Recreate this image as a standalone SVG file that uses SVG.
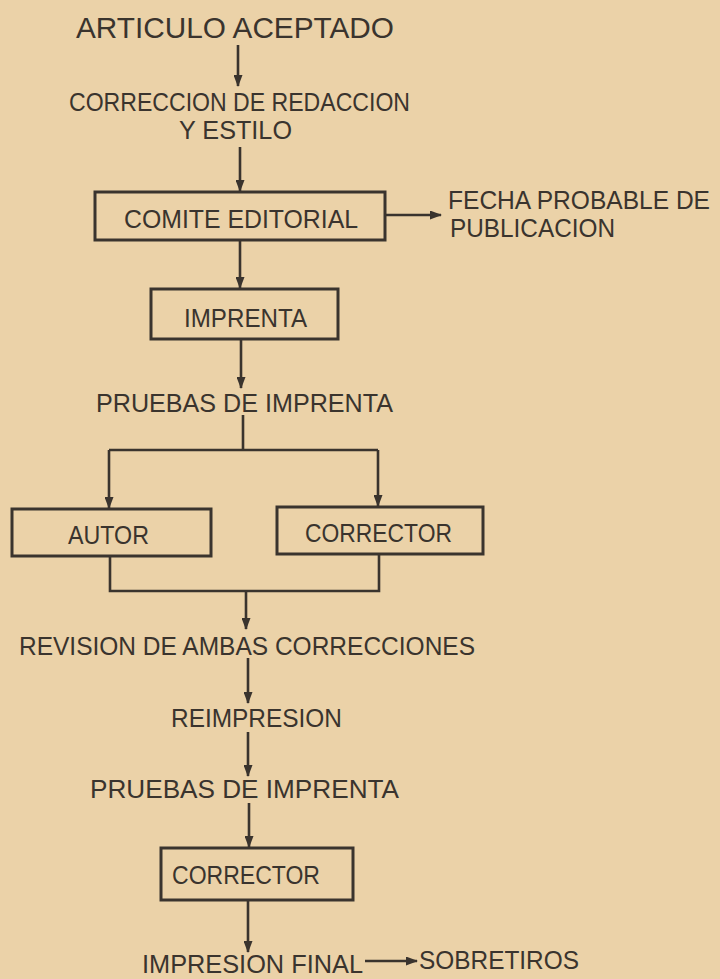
<svg xmlns="http://www.w3.org/2000/svg" width="720" height="979" viewBox="0 0 720 979">
<style>
.t{font-family:"Liberation Sans",Arial,sans-serif;font-size:26px;fill:#3a342e}
.b{fill:none;stroke:#3a342e;stroke-width:3}
.c{fill:none;stroke:#3a342e;stroke-width:2.6}
</style>
<defs>
<marker id="ah" markerUnits="userSpaceOnUse" markerWidth="12" markerHeight="9" refX="11" refY="4.5" orient="auto">
<path d="M0,0 L12,4.5 L0,9 z" fill="#3a342e"/>
</marker>
</defs>
<rect width="720" height="979" fill="#ebd2a8"/>
<g id="n-articulo"><text class="t" x="76" y="38" textLength="318" lengthAdjust="spacingAndGlyphs" style="font-size:29px">ARTICULO ACEPTADO</text></g>
<g id="n-correccion"><text class="t" x="69" y="111" textLength="341" lengthAdjust="spacingAndGlyphs">CORRECCION DE REDACCION</text><text class="t" x="179" y="139" textLength="113" lengthAdjust="spacingAndGlyphs">Y ESTILO</text></g>
<g id="n-comite"><rect class="b" x="95" y="192" width="290" height="48"/><text class="t" x="124" y="228" textLength="234" lengthAdjust="spacingAndGlyphs">COMITE EDITORIAL</text></g>
<g id="n-fecha"><text class="t" x="448" y="209" textLength="262" lengthAdjust="spacingAndGlyphs" style="font-size:25px">FECHA PROBABLE DE</text><text class="t" x="450" y="237" textLength="165" lengthAdjust="spacingAndGlyphs" style="font-size:25px">PUBLICACION</text></g>
<g id="n-imprenta"><rect class="b" x="151" y="289" width="187" height="50"/><text class="t" x="184" y="327" textLength="123" lengthAdjust="spacingAndGlyphs">IMPRENTA</text></g>
<g id="n-pruebas1"><text class="t" x="96" y="412" textLength="297" lengthAdjust="spacingAndGlyphs">PRUEBAS DE IMPRENTA</text></g>
<g id="n-autor"><rect class="b" x="12" y="509" width="199" height="47"/><text class="t" x="68" y="544" textLength="81" lengthAdjust="spacingAndGlyphs">AUTOR</text></g>
<g id="n-corrector1"><rect class="b" x="277" y="507" width="206" height="47"/><text class="t" x="305" y="542" textLength="147" lengthAdjust="spacingAndGlyphs">CORRECTOR</text></g>
<g id="n-revision"><text class="t" x="19" y="655" textLength="456" lengthAdjust="spacingAndGlyphs">REVISION DE AMBAS CORRECCIONES</text></g>
<g id="n-reimpresion"><text class="t" x="171" y="727" textLength="171" lengthAdjust="spacingAndGlyphs">REIMPRESION</text></g>
<g id="n-pruebas2"><text class="t" x="90" y="798" textLength="309" lengthAdjust="spacingAndGlyphs">PRUEBAS DE IMPRENTA</text></g>
<g id="n-corrector2"><rect class="b" x="161" y="848" width="192" height="52"/><text class="t" x="172" y="884" textLength="148" lengthAdjust="spacingAndGlyphs">CORRECTOR</text></g>
<g id="n-impresion"><text class="t" x="142" y="973" textLength="221" lengthAdjust="spacingAndGlyphs">IMPRESION FINAL</text></g>
<g id="n-sobretiros"><text class="t" x="419" y="969" textLength="160" lengthAdjust="spacingAndGlyphs">SOBRETIROS</text></g>
<g id="connectors">
<line class="c" x1="238" y1="45" x2="238" y2="86" marker-end="url(#ah)"/>
<line class="c" x1="240" y1="147" x2="240" y2="191" marker-end="url(#ah)"/>
<line class="c" x1="385" y1="215" x2="441" y2="215" marker-end="url(#ah)"/>
<line class="c" x1="240" y1="240" x2="240" y2="288" marker-end="url(#ah)"/>
<line class="c" x1="241" y1="339" x2="241" y2="388" marker-end="url(#ah)"/>
<polyline class="c" points="243,415 243,450"/>
<polyline class="c" points="109,450 378,450"/>
<line class="c" x1="109" y1="450" x2="109" y2="508" marker-end="url(#ah)"/>
<line class="c" x1="378" y1="450" x2="378" y2="506" marker-end="url(#ah)"/>
<polyline class="c" points="110,556 110,591 379,591 379,554"/>
<line class="c" x1="246" y1="591" x2="246" y2="629" marker-end="url(#ah)"/>
<line class="c" x1="248" y1="658" x2="248" y2="703" marker-end="url(#ah)"/>
<line class="c" x1="248" y1="732" x2="248" y2="776" marker-end="url(#ah)"/>
<line class="c" x1="249" y1="803" x2="249" y2="847" marker-end="url(#ah)"/>
<line class="c" x1="248" y1="900" x2="248" y2="952" marker-end="url(#ah)"/>
<line class="c" x1="365" y1="961" x2="417" y2="961" marker-end="url(#ah)"/>
</g>
</svg>
